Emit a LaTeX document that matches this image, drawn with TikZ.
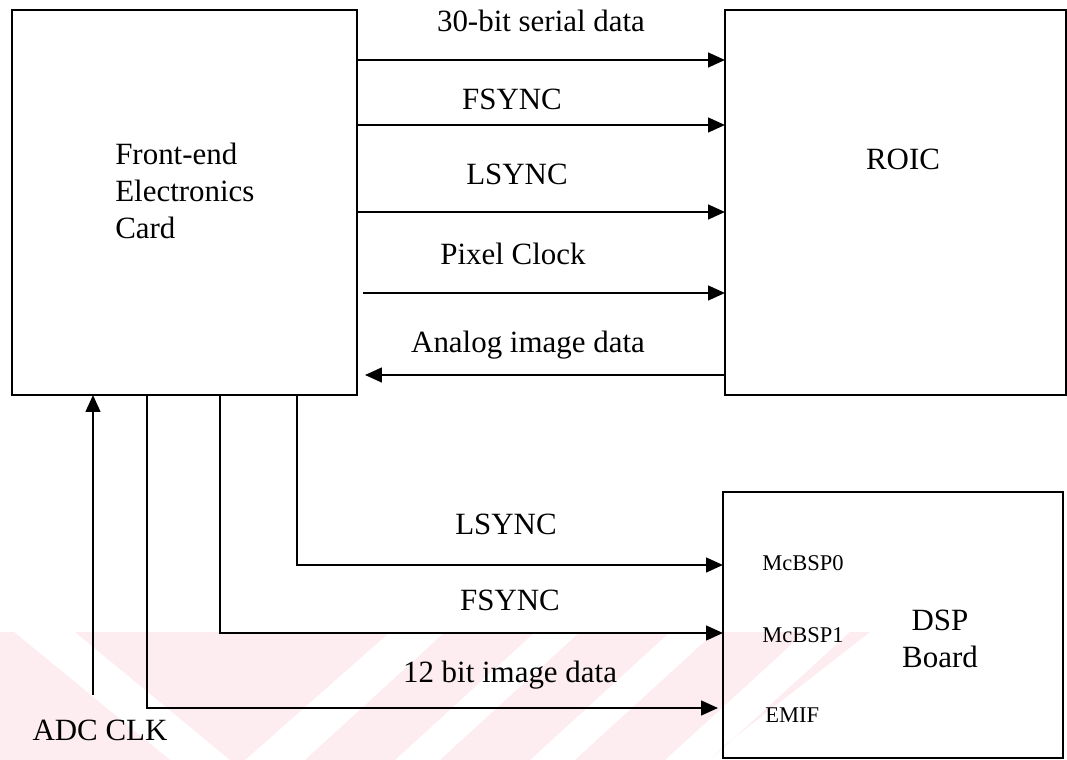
\documentclass[tikz,border=0pt]{standalone}
\usepackage{fontspec}
\setmainfont{Liberation Serif}
\usetikzlibrary{arrows.meta}
\definecolor{wmpink}{RGB}{253,236,240}
\tikzset{
  blk/.style={draw, line width=1.5pt, rectangle, inner sep=0pt, outer sep=0pt},
  sig/.style={line width=1.4pt, -{Triangle[length=12pt,width=10.5pt]}},
  lbl/.style={inner sep=0pt, font=\fontsize{22}{26.3}\selectfont},
  port/.style={inner sep=0pt, anchor=base west, font=\fontsize{16}{19}\selectfont}
}
\begin{document}
\begin{tikzpicture}[x=0.025cm, y=-0.025cm]
\useasboundingbox (0,0) rectangle (1067,760);

% faint background print in the lower band
\begin{scope}
\clip (0,632) rectangle (1067,760);
\fill[wmpink] (0,632) -- (14,632) -- (170,760) -- (0,760) -- cycle;
\fill[wmpink] (75,632) -- (390,632) -- (245,760) -- (230,760) -- cycle;
\fill[wmpink] (445,632) -- (535,632) -- (395,760) -- (305,760) -- cycle;
\fill[wmpink] (580,632) -- (670,632) -- (530,760) -- (440,760) -- cycle;
\fill[wmpink] (715,632) -- (805,632) -- (665,760) -- (575,760) -- cycle;
\fill[wmpink] (850,632) -- (870,632) -- (725,745) -- (710,760) -- cycle;
\end{scope}

% blocks
\node[blk, minimum width=8.625cm, minimum height=9.625cm] (fe) at (184.5,202.5) {};
\node[blk, minimum width=8.525cm, minimum height=9.625cm] (roic) at (895.5,202.5) {};
\node[blk, minimum width=8.5cm, minimum height=6.65cm] (dsp) at (893,625) {};

% block titles
\node[lbl, anchor=north west, align=left] (fetext) at (115,143) {Front-end\\Electronics\\Card};
\node[lbl, anchor=base] (roictext) at (903,170) {ROIC};
\node[lbl, anchor=north, align=center] (dsptext) at (940,610) {DSP\\Board};

% DSP ports
\node[port] (p0) at (762,570.5) {McBSP0};
\node[port] (p1) at (762,642.5) {McBSP1};
\node[port] (emif) at (765,722.5) {EMIF};

% rows of the signal lines
\coordinate (r1) at (0,60);
\coordinate (r2) at (0,125);
\coordinate (r3) at (0,212);
\coordinate (r4) at (0,293);
\coordinate (r5) at (0,375);
\coordinate (pcstart) at (363,293);
\coordinate (adtip) at (365,375);
\coordinate (adcsrc) at (93,695);

% front-end to ROIC
\draw[sig] (fe.east |- r1) -- (roic.west |- r1);
\draw[sig] (fe.east |- r2) -- (roic.west |- r2);
\draw[sig] (fe.east |- r3) -- (roic.west |- r3);
\draw[sig] (pcstart) -- (roic.west |- r4);
\draw[sig] (roic.west |- r5) -- (adtip);

\node[lbl, anchor=base] (l1) at (541,32) {30-bit serial data};
\node[lbl, anchor=base] (l2) at (512,110) {FSYNC};
\node[lbl, anchor=base] (l3) at (517,185) {LSYNC};
\node[lbl, anchor=base] (l4) at (513,265) {Pixel Clock};
\node[lbl, anchor=base] (l5) at (528,353) {Analog image data};

% front-end to DSP board
\draw[sig] (fe.south -| 297,0) |- (dsp.west |- 0,565);
\draw[sig] (fe.south -| 220,0) |- (dsp.west |- 0,633);
\draw[sig] (fe.south -| 147,0) |- (718,708);
\draw[sig] (adcsrc) -- (fe.south -| adcsrc);

\node[lbl, anchor=base] (l6) at (506,535) {LSYNC};
\node[lbl, anchor=base] (l7) at (510,610) {FSYNC};
\node[lbl, anchor=base] (l8) at (510,683) {12 bit image data};
\node[lbl, anchor=base] (l9) at (100,740) {ADC CLK};
\end{tikzpicture}
\end{document}
